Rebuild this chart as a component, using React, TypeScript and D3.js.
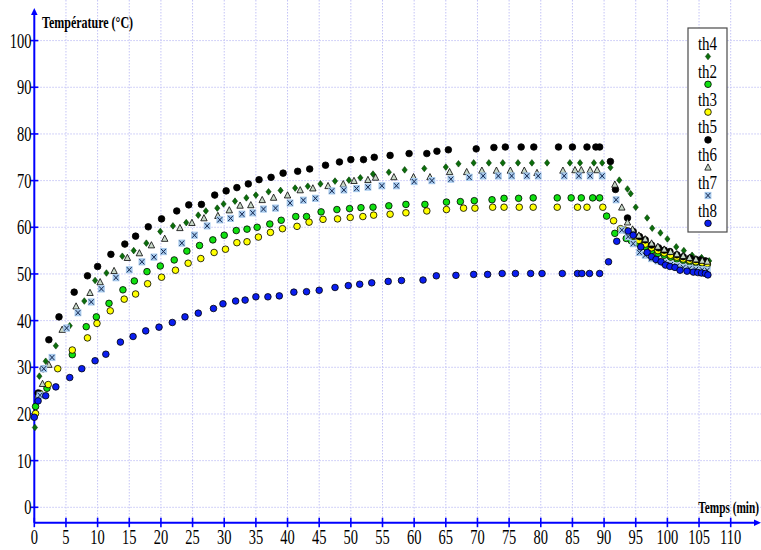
import React from "react";
import * as d3 from "d3";

// Temperature readings (time in min, temperature in °C) for each thermocouple
const th4: [number, number][] = [
  [0.1, 17.1], [0.8, 28.1], [1.8, 31.3], [3.4, 34.6], [5.6, 38.9], [7.9, 44.2], [9.6, 48.6], [11.4, 50.2],
  [13.9, 53.8], [15.7, 55.0], [17.7, 56.6], [19.9, 59.1], [21.9, 60.3], [24.0, 61.0], [25.9, 62.6], [27.1, 63.5],
  [28.9, 64.1], [29.9, 65.0], [31.7, 65.6], [33.5, 66.3], [35.0, 66.9], [37.0, 67.6], [38.9, 67.9], [41.2, 68.4],
  [43.2, 68.8], [45.2, 69.3], [47.5, 69.9], [49.7, 70.1], [51.5, 70.6], [53.5, 71.4], [56.0, 71.8], [58.5, 72.3],
  [61.6, 72.6], [65.0, 72.9], [67.0, 73.6], [69.4, 73.8], [71.8, 73.8], [74.0, 73.8], [76.4, 73.8], [78.6, 73.8],
  [81.0, 73.8], [84.6, 73.8], [86.2, 73.8], [88.4, 73.8], [89.7, 73.8], [91.0, 72.8], [92.4, 70.1], [93.7, 68.2],
  [94.2, 67.2], [95.0, 64.3], [96.8, 62.0], [97.6, 59.8], [98.9, 58.8], [100.0, 57.5], [101.4, 55.8], [102.6, 55.0],
  [103.9, 54.0], [105.4, 53.5], [106.6, 52.8],
];

const th2: [number, number][] = [
  [0.2, 21.6], [2.0, 25.5], [6.0, 32.7], [8.2, 38.7], [9.8, 40.8], [11.8, 43.7], [14.0, 46.6], [15.8, 48.5],
  [17.8, 50.5], [19.9, 51.7], [22.1, 53.0], [24.1, 54.9], [26.1, 56.1], [28.2, 57.3], [30.0, 58.3], [31.9, 59.3],
  [33.6, 59.6], [35.2, 60.0], [37.2, 60.7], [39.0, 61.5], [41.3, 62.3], [43.0, 62.3], [45.3, 63.3], [47.8, 63.8],
  [49.8, 64.0], [51.6, 64.2], [53.5, 64.3], [56.0, 64.6], [58.7, 64.9], [61.7, 64.9], [65.1, 65.4], [67.3, 65.5],
  [69.5, 65.7], [72.3, 65.9], [74.2, 66.2], [76.5, 66.2], [78.8, 66.3], [82.6, 66.3], [84.8, 66.3], [86.4, 66.3],
  [88.2, 66.3], [89.3, 66.3], [90.4, 62.4], [91.7, 58.7], [93.5, 57.6], [94.3, 57.1], [95.5, 56.5], [96.5, 55.8],
  [97.5, 55.0], [98.5, 54.4], [99.5, 54.0], [100.5, 53.6], [101.5, 53.2], [102.5, 52.9], [103.5, 52.6],
  [104.5, 52.4], [105.5, 52.2], [106.3, 52.0],
];

const th3: [number, number][] = [
  [0.2, 20.1], [0.9, 24.4], [2.2, 26.3], [3.7, 29.7], [6.0, 33.7], [8.4, 36.3], [9.9, 39.4], [12.0, 42.1],
  [14.2, 44.6], [16.0, 45.7], [17.9, 47.9], [20.1, 49.3], [22.3, 50.8], [24.3, 52.3], [26.3, 53.3], [28.4, 54.6],
  [30.2, 55.3], [32.0, 56.7], [33.6, 56.9], [35.4, 57.9], [37.3, 58.9], [39.2, 59.7], [41.5, 60.2], [43.4, 61.1],
  [45.6, 61.7], [47.9, 61.8], [49.9, 62.1], [51.9, 62.3], [53.6, 62.6], [56.2, 62.8], [58.7, 63.1], [62.0, 63.5],
  [65.1, 63.8], [67.8, 64.1], [69.6, 64.1], [72.4, 64.3], [74.2, 64.3], [76.6, 64.3], [78.8, 64.3], [82.6, 64.3],
  [85.8, 64.3], [87.3, 64.3], [89.8, 64.3], [91.5, 61.4], [92.6, 59.7], [93.3, 59.4], [94.5, 58.1], [95.5, 57.2],
  [96.5, 56.4], [97.5, 55.6], [98.5, 55.0], [99.5, 54.5], [100.5, 54.0], [101.5, 53.6], [102.5, 53.2],
  [103.5, 52.9], [104.5, 52.6], [105.5, 52.4], [106.3, 52.2],
];

const th5: [number, number][] = [
  [0.6, 24.5], [1.4, 29.7], [2.3, 35.9], [3.9, 40.8], [6.3, 46.1], [8.4, 49.6], [10.0, 51.6], [12.1, 54.2],
  [14.3, 56.4], [16.0, 58.1], [18.0, 60.1], [20.1, 61.8], [22.5, 63.5], [24.4, 64.8], [26.4, 64.9], [28.5, 66.9],
  [30.3, 67.8], [32.0, 68.5], [33.8, 69.3], [35.5, 70.2], [37.4, 70.7], [39.3, 71.6], [41.6, 72.0], [43.5, 72.5],
  [46.0, 73.3], [48.2, 74.0], [50.0, 74.5], [52.0, 74.5], [53.7, 75.0], [56.2, 75.4], [59.2, 75.8], [62.0, 75.8],
  [63.6, 76.3], [65.4, 76.6], [69.8, 76.8], [72.6, 77.1], [74.4, 77.2], [76.9, 77.2], [78.9, 77.2], [82.8, 77.2],
  [85.0, 77.2], [87.3, 77.2], [88.7, 77.2], [89.3, 77.2], [91.0, 74.1], [91.8, 68.1], [93.7, 62.0], [94.6, 59.1],
  [95.6, 58.0], [96.5, 57.3], [97.5, 56.2], [98.6, 55.6], [99.5, 55.1], [100.4, 54.8], [101.5, 54.1],
  [102.5, 53.7], [103.6, 53.4], [104.5, 53.1], [105.2, 53.0], [106.0, 52.8],
];

const th6: [number, number][] = [
  [0.6, 24.1], [1.3, 26.4], [2.3, 30.5], [4.4, 38.0], [6.6, 43.0], [8.8, 45.9], [10.4, 48.2], [12.6, 50.6],
  [14.7, 53.4], [16.6, 54.4], [18.5, 56.1], [20.6, 57.5], [23.0, 59.8], [24.9, 60.9], [26.8, 61.9], [29.0, 62.4],
  [30.8, 63.6], [32.5, 64.6], [34.2, 64.7], [36.0, 65.8], [37.8, 66.3], [40.0, 66.8], [42.0, 67.9], [44.0, 68.3],
  [46.4, 68.8], [48.8, 69.2], [50.5, 69.9], [52.7, 70.1], [53.9, 70.6], [56.8, 70.7], [59.9, 70.7], [62.5, 70.7],
  [65.6, 71.8], [68.3, 71.8], [70.7, 72.1], [73.0, 72.1], [75.2, 72.1], [77.4, 72.1], [79.4, 71.6], [83.5, 72.1],
  [85.4, 72.2], [86.4, 72.2], [87.8, 72.2], [88.9, 72.2], [91.7, 69.1], [92.8, 64.2], [93.7, 61.0], [94.5, 59.5],
  [95.5, 58.2], [96.5, 57.4], [97.5, 56.5], [98.5, 55.8], [99.5, 55.2], [100.5, 54.7], [101.5, 54.2],
  [102.5, 53.8], [103.5, 53.4], [104.5, 53.1], [105.5, 52.8], [106.3, 52.6],
];

const th7: [number, number][] = [
  [0.9, 24.0], [1.5, 29.7], [2.8, 32.1], [5.1, 38.4], [6.9, 41.7], [9.0, 44.0], [10.6, 46.8], [12.9, 49.2],
  [15.0, 50.9], [17.0, 52.6], [18.9, 53.6], [20.4, 54.8], [23.3, 56.6], [25.3, 58.3], [27.3, 60.3], [29.3, 61.6],
  [31.0, 61.9], [32.8, 62.8], [34.5, 63.1], [36.2, 63.9], [38.1, 64.1], [40.4, 65.2], [42.5, 65.8], [44.4, 66.2],
  [47.0, 67.8], [48.9, 68.0], [50.9, 68.3], [52.7, 68.6], [54.9, 68.9], [57.2, 68.9], [60.0, 69.8], [62.8, 70.0],
  [65.8, 70.3], [68.7, 70.7], [70.9, 71.0], [73.3, 71.0], [75.4, 71.0], [77.8, 71.0], [79.6, 71.0], [83.7, 71.0],
  [86.0, 71.0], [87.8, 71.0], [89.7, 71.0], [91.9, 65.9], [92.8, 59.4], [93.8, 58.0], [94.6, 56.5], [95.6, 54.6],
  [96.5, 54.0], [97.5, 53.3], [98.5, 52.8], [99.5, 52.4], [100.5, 52.0], [101.5, 51.7], [102.5, 51.4],
  [103.5, 51.2], [104.5, 51.0], [105.5, 50.9], [106.3, 50.8],
];

const th8: [number, number][] = [
  [0.0, 19.3], [0.6, 22.8], [1.8, 23.9], [3.4, 25.8], [5.6, 27.8], [7.5, 29.7], [9.6, 31.4], [11.3, 32.8],
  [13.6, 35.4], [15.6, 36.6], [17.6, 37.8], [19.7, 38.6], [21.8, 39.6], [23.8, 40.8], [25.9, 41.6], [28.3, 42.6],
  [29.8, 43.6], [31.8, 44.2], [33.3, 44.4], [35.0, 45.1], [36.9, 45.1], [38.7, 45.3], [41.0, 46.1], [43.0, 46.2],
  [45.0, 46.5], [47.5, 47.1], [49.6, 47.5], [51.4, 47.8], [53.3, 48.1], [55.9, 48.4], [58.0, 48.6], [61.4, 48.7],
  [63.5, 49.6], [66.6, 49.7], [69.4, 49.9], [71.6, 49.9], [73.9, 50.1], [76.0, 50.1], [78.4, 50.1], [80.2, 50.1],
  [83.4, 50.1], [85.8, 50.1], [86.5, 50.1], [87.7, 50.1], [89.3, 50.1], [90.7, 52.6], [92.0, 57.0], [93.8, 59.2],
  [94.6, 58.3], [95.8, 55.8], [96.8, 54.6], [97.5, 53.7], [98.2, 53.1], [99.0, 52.6], [99.7, 51.9], [100.4, 51.6],
  [101.2, 51.4], [102.0, 50.8], [103.1, 50.6], [104.1, 50.4], [104.8, 50.3], [105.4, 50.2], [106.0, 50.1],
  [106.4, 49.8],
];

const xTickValues = [0, 5, 10, 15, 20, 25, 30, 35, 40, 45, 50, 55, 60, 65, 70, 75, 80, 85, 90, 95, 100, 105, 110];
const yTickValues = [0, 10, 20, 30, 40, 50, 60, 70, 80, 90, 100];
const seriesNames = ["th4", "th2", "th3", "th5", "th6", "th7", "th8"];
const seriesData = [th4, th2, th3, th5, th6, th7, th8];
const seriesKinds = ["diamond", "circle", "circle", "circle", "triangle", "cross", "circle"];
const seriesColors = ["#0b6e0b", "#10e010", "#ffff00", "#000000", "#c8d8c8", "#a8cbee", "#0a1ef0"];

const W = 761;
const H = 550;
const AXIS = "#0000ff";
const GRID = "#c4c4f6";
const FONT = "'Liberation Serif', 'Times New Roman', serif";

const x = d3.scaleLinear().domain([0, 110]).range([34.3, 730.7]);
const y = d3.scaleLinear().domain([0, 100]).range([507.3, 40.6]);
const xAxisY = y(-3.3);

function Marker({ kind, color, cx, cy }: { kind: string; color: string; cx: number; cy: number }) {
  if (kind === "diamond") {
    const p = d3.path();
    p.moveTo(cx, cy - 3.3);
    p.lineTo(cx + 2.6, cy);
    p.lineTo(cx, cy + 3.3);
    p.lineTo(cx - 2.6, cy);
    p.closePath();
    return <path d={p.toString()} fill={color} stroke="#043a04" strokeWidth={0.6} />;
  }
  if (kind === "triangle") {
    const p = d3.path();
    p.moveTo(cx, cy - 3.8);
    p.lineTo(cx + 3.2, cy + 2.4);
    p.lineTo(cx - 3.2, cy + 2.4);
    p.closePath();
    return <path d={p.toString()} fill={color} stroke="#000" strokeWidth={0.8} />;
  }
  if (kind === "cross") {
    return (
      <g>
        <rect x={cx - 3.4} y={cy - 3.6} width={6.8} height={7.2} fill={color} />
        <path
          d={`M${cx - 2.4},${cy - 2.6}L${cx + 2.4},${cy + 2.6}M${cx + 2.4},${cy - 2.6}L${cx - 2.4},${cy + 2.6}`}
          stroke="#14264e"
          strokeWidth={1}
        />
      </g>
    );
  }
  return <circle cx={cx} cy={cy} r={3.3} fill={color} stroke="#000" strokeWidth={0.8} />;
}

export default function App() {
  return (
    <svg
      width={W}
      height={H}
      viewBox={`0 0 ${W} ${H}`}
      style={{ position: "absolute", left: 0, top: 0, background: "#fff" }}
    >
      <rect x={0} y={0} width={W} height={H} fill="#fff" />

      {/* grid */}
      <g stroke={GRID} strokeWidth={1} strokeDasharray="1.5,1.5" fill="none">
        {yTickValues.map((v) => (
          <line key={"gy" + v} x1={x(0)} x2={W} y1={y(v)} y2={y(v)} />
        ))}
        {xTickValues
          .filter((v) => v > 0)
          .map((v) => (
            <line key={"gx" + v} x1={x(v)} x2={x(v)} y1={0} y2={xAxisY} />
          ))}
      </g>

      {/* axes */}
      <g stroke={AXIS} fill={AXIS}>
        <line x1={x(0)} x2={x(0)} y1={xAxisY} y2={14} strokeWidth={2} />
        <path d={`M${x(0)},8L${x(0) + 3.3},15L${x(0) - 3.3},15Z`} stroke="none" />
        <line x1={x(0)} x2={755} y1={xAxisY} y2={xAxisY} strokeWidth={2} />
        <path d={`M761,${xAxisY}L754,${xAxisY - 3.3}L754,${xAxisY + 3.3}Z`} stroke="none" />
        {yTickValues.map((v) => (
          <line key={"ty" + v} x1={x(0) - 4} x2={x(0) + 4} y1={y(v)} y2={y(v)} strokeWidth={1.6} />
        ))}
        {xTickValues.map((v) => (
          <line key={"tx" + v} x1={x(v)} x2={x(v)} y1={xAxisY - 5} y2={xAxisY + 4.5} strokeWidth={1.6} />
        ))}
      </g>

      {/* tick labels */}
      <g fontFamily={FONT} fontSize={14.5} fill="#000">
        {yTickValues.map((v) => (
          <text
            key={"ly" + v}
            transform={`translate(31.5,${y(v) + 7}) scale(1,1.45)`}
            textAnchor="end"
          >
            {v}
          </text>
        ))}
        {xTickValues.map((v) => (
          <text
            key={"lx" + v}
            transform={`translate(${x(v)},544) scale(1,1.45)`}
            textAnchor="middle"
          >
            {v}
          </text>
        ))}
      </g>

      {/* axis titles */}
      <g fontFamily={FONT} fontWeight="bold" fontSize={12} fill="#000">
        <text transform="translate(42,28.3) scale(1,1.45)">Température (°C)</text>
        <text transform="translate(759,513.3) scale(1,1.45)" textAnchor="end" fontSize={11.3}>
          Temps (min)
        </text>
      </g>

      {/* data points */}
      {seriesData.map((data, si) => (
        <g key={seriesNames[si]}>
          {data.map(([t, v], i) => (
            <Marker key={i} kind={seriesKinds[si]} color={seriesColors[si]} cx={x(t)} cy={y(v)} />
          ))}
        </g>
      ))}

      {/* legend */}
      <g>
        <rect x={688} y={28} width={39} height={204} fill="#fff" stroke="#4a4a4a" strokeWidth={1.2} />
        {seriesNames.map((name, i) => (
          <g key={"lg" + name}>
            <text
              transform={`translate(707.5,${50 + i * 27.8}) scale(1,1.3)`}
              textAnchor="middle"
              fontFamily={FONT}
              fontSize={15}
              fill="#000"
            >
              {name}
            </text>
            <Marker kind={seriesKinds[i]} color={seriesColors[i]} cx={708} cy={56.5 + i * 27.8} />
          </g>
        ))}
      </g>
    </svg>
  );
}
